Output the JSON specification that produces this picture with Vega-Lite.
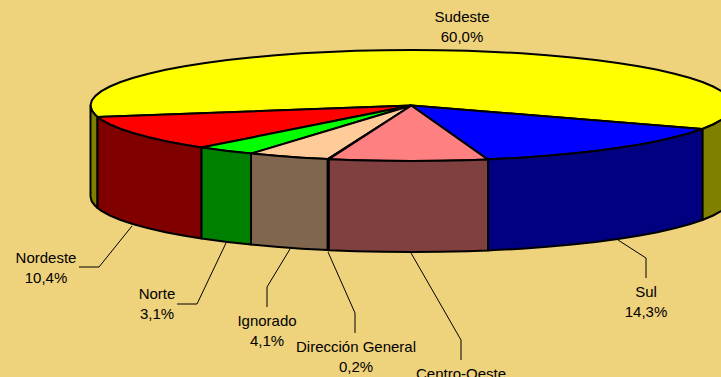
{"$schema":"https://vega.github.io/schema/vega-lite/v6.json","width":721,"height":377,"padding":0,"autosize":{"type":"none"},"background":"#EFD27C","view":{"stroke":null},
"datasets":{
"shapes":[
{"s":"Sudeste top","o":0,"x":411.5,"y":105.5},{"s":"Sudeste top","o":1,"x":702.4,"y":129},{"s":"Sudeste top","o":2,"x":713.1,"y":124.5},{"s":"Sudeste top","o":3,"x":721.6,"y":119.9},{"s":"Sudeste top","o":4,"x":727.6,"y":115.1},{"s":"Sudeste top","o":5,"x":731.3,"y":110.3},{"s":"Sudeste top","o":6,"x":732.5,"y":105.5},{"s":"Sudeste top","o":7,"x":731.3,"y":100.7},{"s":"Sudeste top","o":8,"x":727.6,"y":95.9},{"s":"Sudeste top","o":9,"x":721.6,"y":91.1},{"s":"Sudeste top","o":10,"x":713.1,"y":86.5},{"s":"Sudeste top","o":11,"x":702.4,"y":82},{"s":"Sudeste top","o":12,"x":689.5,"y":77.8},{"s":"Sudeste top","o":13,"x":674.5,"y":73.7},{"s":"Sudeste top","o":14,"x":657.4,"y":69.8},{"s":"Sudeste top","o":15,"x":638.5,"y":66.3},{"s":"Sudeste top","o":16,"x":617.8,"y":63},{"s":"Sudeste top","o":17,"x":595.6,"y":60},{"s":"Sudeste top","o":18,"x":572,"y":57.4},{"s":"Sudeste top","o":19,"x":547.2,"y":55.2},{"s":"Sudeste top","o":20,"x":521.3,"y":53.3},{"s":"Sudeste top","o":21,"x":494.6,"y":51.9},{"s":"Sudeste top","o":22,"x":467.2,"y":50.8},{"s":"Sudeste top","o":23,"x":439.5,"y":50.2},{"s":"Sudeste top","o":24,"x":411.5,"y":50},{"s":"Sudeste top","o":25,"x":383.5,"y":50.2},{"s":"Sudeste top","o":26,"x":355.8,"y":50.8},{"s":"Sudeste top","o":27,"x":328.4,"y":51.9},{"s":"Sudeste top","o":28,"x":301.7,"y":53.3},{"s":"Sudeste top","o":29,"x":275.8,"y":55.2},{"s":"Sudeste top","o":30,"x":251,"y":57.4},{"s":"Sudeste top","o":31,"x":227.4,"y":60},{"s":"Sudeste top","o":32,"x":205.2,"y":63},{"s":"Sudeste top","o":33,"x":184.5,"y":66.3},{"s":"Sudeste top","o":34,"x":165.6,"y":69.8},{"s":"Sudeste top","o":35,"x":148.5,"y":73.7},{"s":"Sudeste top","o":36,"x":133.5,"y":77.8},{"s":"Sudeste top","o":37,"x":120.6,"y":82},{"s":"Sudeste top","o":38,"x":109.9,"y":86.5},{"s":"Sudeste top","o":39,"x":101.4,"y":91.1},{"s":"Sudeste top","o":40,"x":95.4,"y":95.9},{"s":"Sudeste top","o":41,"x":91.7,"y":100.7},{"s":"Sudeste top","o":42,"x":90.5,"y":105.5},{"s":"Sudeste top","o":43,"x":91.7,"y":110.3},{"s":"Sudeste top","o":44,"x":95.4,"y":115.1},{"s":"Sudeste top","o":45,"x":97.5,"y":117},{"s":"Sudeste top","o":46,"x":411.5,"y":105.5},
{"s":"Nordeste top","o":0,"x":411.5,"y":105.5},{"s":"Nordeste top","o":1,"x":97.5,"y":117},{"s":"Nordeste top","o":2,"x":101.4,"y":119.9},{"s":"Nordeste top","o":3,"x":109.9,"y":124.5},{"s":"Nordeste top","o":4,"x":120.6,"y":129},{"s":"Nordeste top","o":5,"x":133.5,"y":133.3},{"s":"Nordeste top","o":6,"x":148.5,"y":137.3},{"s":"Nordeste top","o":7,"x":165.6,"y":141.2},{"s":"Nordeste top","o":8,"x":184.5,"y":144.7},{"s":"Nordeste top","o":9,"x":201.5,"y":147.6},{"s":"Nordeste top","o":10,"x":411.5,"y":105.5},
{"s":"Norte top","o":0,"x":411.5,"y":105.5},{"s":"Norte top","o":1,"x":201.5,"y":147.6},{"s":"Norte top","o":2,"x":227.4,"y":151},{"s":"Norte top","o":3,"x":251,"y":153.6},{"s":"Norte top","o":4,"x":411.5,"y":105.5},
{"s":"Ignorado top","o":0,"x":411.5,"y":105.5},{"s":"Ignorado top","o":1,"x":251,"y":153.6},{"s":"Ignorado top","o":2,"x":275.8,"y":155.8},{"s":"Ignorado top","o":3,"x":301.7,"y":157.7},{"s":"Ignorado top","o":4,"x":327.8,"y":159.1},{"s":"Ignorado top","o":5,"x":411.5,"y":105.5},
{"s":"Dirección General top","o":0,"x":411.5,"y":105.5},{"s":"Dirección General top","o":1,"x":327.8,"y":159.1},{"s":"Dirección General top","o":2,"x":328.8,"y":159.2},{"s":"Dirección General top","o":3,"x":411.5,"y":105.5},
{"s":"Centro-Oeste top","o":0,"x":411.5,"y":105.5},{"s":"Centro-Oeste top","o":1,"x":328.8,"y":159.2},{"s":"Centro-Oeste top","o":2,"x":355.8,"y":160.2},{"s":"Centro-Oeste top","o":3,"x":383.5,"y":160.8},{"s":"Centro-Oeste top","o":4,"x":411.5,"y":161},{"s":"Centro-Oeste top","o":5,"x":439.5,"y":160.8},{"s":"Centro-Oeste top","o":6,"x":467.2,"y":160.2},{"s":"Centro-Oeste top","o":7,"x":488,"y":159.4},{"s":"Centro-Oeste top","o":8,"x":411.5,"y":105.5},
{"s":"Sul top","o":0,"x":411.5,"y":105.5},{"s":"Sul top","o":1,"x":488,"y":159.4},{"s":"Sul top","o":2,"x":494.6,"y":159.1},{"s":"Sul top","o":3,"x":521.3,"y":157.7},{"s":"Sul top","o":4,"x":547.2,"y":155.8},{"s":"Sul top","o":5,"x":572,"y":153.6},{"s":"Sul top","o":6,"x":595.6,"y":151},{"s":"Sul top","o":7,"x":617.8,"y":148},{"s":"Sul top","o":8,"x":638.5,"y":144.7},{"s":"Sul top","o":9,"x":657.4,"y":141.2},{"s":"Sul top","o":10,"x":674.5,"y":137.3},{"s":"Sul top","o":11,"x":689.5,"y":133.3},{"s":"Sul top","o":12,"x":702.4,"y":129},{"s":"Sul top","o":13,"x":411.5,"y":105.5},
{"s":"Sudeste side L","o":0,"x":90.5,"y":105.5},{"s":"Sudeste side L","o":1,"x":91.7,"y":110.3},{"s":"Sudeste side L","o":2,"x":95.4,"y":115.1},{"s":"Sudeste side L","o":3,"x":97.5,"y":117},{"s":"Sudeste side L","o":4,"x":97.5,"y":208},{"s":"Sudeste side L","o":5,"x":95.4,"y":206.1},{"s":"Sudeste side L","o":6,"x":91.7,"y":201.3},{"s":"Sudeste side L","o":7,"x":90.5,"y":196.5},{"s":"Sudeste side L","o":8,"x":90.5,"y":105.5},
{"s":"Sudeste side R","o":0,"x":702.4,"y":129},{"s":"Sudeste side R","o":1,"x":713.1,"y":124.5},{"s":"Sudeste side R","o":2,"x":721.6,"y":119.9},{"s":"Sudeste side R","o":3,"x":727.6,"y":115.1},{"s":"Sudeste side R","o":4,"x":731.3,"y":110.3},{"s":"Sudeste side R","o":5,"x":732.5,"y":105.5},{"s":"Sudeste side R","o":6,"x":732.5,"y":196.5},{"s":"Sudeste side R","o":7,"x":731.3,"y":201.3},{"s":"Sudeste side R","o":8,"x":727.6,"y":206.1},{"s":"Sudeste side R","o":9,"x":721.6,"y":210.9},{"s":"Sudeste side R","o":10,"x":713.1,"y":215.5},{"s":"Sudeste side R","o":11,"x":702.4,"y":220},{"s":"Sudeste side R","o":12,"x":702.4,"y":129},
{"s":"Nordeste side","o":0,"x":97.5,"y":117},{"s":"Nordeste side","o":1,"x":101.4,"y":119.9},{"s":"Nordeste side","o":2,"x":109.9,"y":124.5},{"s":"Nordeste side","o":3,"x":120.6,"y":129},{"s":"Nordeste side","o":4,"x":133.5,"y":133.3},{"s":"Nordeste side","o":5,"x":148.5,"y":137.3},{"s":"Nordeste side","o":6,"x":165.6,"y":141.2},{"s":"Nordeste side","o":7,"x":184.5,"y":144.7},{"s":"Nordeste side","o":8,"x":201.5,"y":147.6},{"s":"Nordeste side","o":9,"x":201.5,"y":238.6},{"s":"Nordeste side","o":10,"x":184.5,"y":235.7},{"s":"Nordeste side","o":11,"x":165.6,"y":232.2},{"s":"Nordeste side","o":12,"x":148.5,"y":228.3},{"s":"Nordeste side","o":13,"x":133.5,"y":224.3},{"s":"Nordeste side","o":14,"x":120.6,"y":220},{"s":"Nordeste side","o":15,"x":109.9,"y":215.5},{"s":"Nordeste side","o":16,"x":101.4,"y":210.9},{"s":"Nordeste side","o":17,"x":97.5,"y":208},{"s":"Nordeste side","o":18,"x":97.5,"y":117},
{"s":"Norte side","o":0,"x":201.5,"y":147.6},{"s":"Norte side","o":1,"x":227.4,"y":151},{"s":"Norte side","o":2,"x":251,"y":153.6},{"s":"Norte side","o":3,"x":251,"y":244.6},{"s":"Norte side","o":4,"x":227.4,"y":242},{"s":"Norte side","o":5,"x":201.5,"y":238.6},{"s":"Norte side","o":6,"x":201.5,"y":147.6},
{"s":"Ignorado side","o":0,"x":251,"y":153.6},{"s":"Ignorado side","o":1,"x":275.8,"y":155.8},{"s":"Ignorado side","o":2,"x":301.7,"y":157.7},{"s":"Ignorado side","o":3,"x":327.8,"y":159.1},{"s":"Ignorado side","o":4,"x":327.8,"y":250.1},{"s":"Ignorado side","o":5,"x":301.7,"y":248.7},{"s":"Ignorado side","o":6,"x":275.8,"y":246.8},{"s":"Ignorado side","o":7,"x":251,"y":244.6},{"s":"Ignorado side","o":8,"x":251,"y":153.6},
{"s":"Dirección General side","o":0,"x":327.8,"y":159.1},{"s":"Dirección General side","o":1,"x":328.8,"y":159.2},{"s":"Dirección General side","o":2,"x":328.8,"y":250.2},{"s":"Dirección General side","o":3,"x":327.8,"y":250.1},{"s":"Dirección General side","o":4,"x":327.8,"y":159.1},
{"s":"Centro-Oeste side","o":0,"x":328.8,"y":159.2},{"s":"Centro-Oeste side","o":1,"x":355.8,"y":160.2},{"s":"Centro-Oeste side","o":2,"x":383.5,"y":160.8},{"s":"Centro-Oeste side","o":3,"x":411.5,"y":161},{"s":"Centro-Oeste side","o":4,"x":439.5,"y":160.8},{"s":"Centro-Oeste side","o":5,"x":467.2,"y":160.2},{"s":"Centro-Oeste side","o":6,"x":488,"y":159.4},{"s":"Centro-Oeste side","o":7,"x":488,"y":250.4},{"s":"Centro-Oeste side","o":8,"x":467.2,"y":251.2},{"s":"Centro-Oeste side","o":9,"x":439.5,"y":251.8},{"s":"Centro-Oeste side","o":10,"x":411.5,"y":252},{"s":"Centro-Oeste side","o":11,"x":383.5,"y":251.8},{"s":"Centro-Oeste side","o":12,"x":355.8,"y":251.2},{"s":"Centro-Oeste side","o":13,"x":328.8,"y":250.2},{"s":"Centro-Oeste side","o":14,"x":328.8,"y":159.2},
{"s":"Sul side","o":0,"x":488,"y":159.4},{"s":"Sul side","o":1,"x":494.6,"y":159.1},{"s":"Sul side","o":2,"x":521.3,"y":157.7},{"s":"Sul side","o":3,"x":547.2,"y":155.8},{"s":"Sul side","o":4,"x":572,"y":153.6},{"s":"Sul side","o":5,"x":595.6,"y":151},{"s":"Sul side","o":6,"x":617.8,"y":148},{"s":"Sul side","o":7,"x":638.5,"y":144.7},{"s":"Sul side","o":8,"x":657.4,"y":141.2},{"s":"Sul side","o":9,"x":674.5,"y":137.3},{"s":"Sul side","o":10,"x":689.5,"y":133.3},{"s":"Sul side","o":11,"x":702.4,"y":129},{"s":"Sul side","o":12,"x":702.4,"y":220},{"s":"Sul side","o":13,"x":689.5,"y":224.3},{"s":"Sul side","o":14,"x":674.5,"y":228.3},{"s":"Sul side","o":15,"x":657.4,"y":232.2},{"s":"Sul side","o":16,"x":638.5,"y":235.7},{"s":"Sul side","o":17,"x":617.8,"y":239},{"s":"Sul side","o":18,"x":595.6,"y":242},{"s":"Sul side","o":19,"x":572,"y":244.6},{"s":"Sul side","o":20,"x":547.2,"y":246.8},{"s":"Sul side","o":21,"x":521.3,"y":248.7},{"s":"Sul side","o":22,"x":494.6,"y":250.1},{"s":"Sul side","o":23,"x":488,"y":250.4},{"s":"Sul side","o":24,"x":488,"y":159.4}
],
"leaders":[
{"r":"Nordeste","o":0,"x":132,"y":226},{"r":"Nordeste","o":1,"x":99,"y":267},{"r":"Nordeste","o":2,"x":79,"y":267},
{"r":"Norte","o":0,"x":226,"y":243},{"r":"Norte","o":1,"x":197,"y":304},{"r":"Norte","o":2,"x":177,"y":304},
{"r":"Ignorado","o":0,"x":290,"y":249},{"r":"Ignorado","o":1,"x":267,"y":287},{"r":"Ignorado","o":2,"x":267,"y":307},
{"r":"Dirección General","o":0,"x":328,"y":252},{"r":"Dirección General","o":1,"x":355,"y":313},{"r":"Dirección General","o":2,"x":355,"y":333},
{"r":"Centro-Oeste","o":0,"x":411,"y":253},{"r":"Centro-Oeste","o":1,"x":461,"y":340},{"r":"Centro-Oeste","o":2,"x":461,"y":360},
{"r":"Sul","o":0,"x":618,"y":240},{"r":"Sul","o":1,"x":646,"y":258},{"r":"Sul","o":2,"x":646,"y":278}
],
"labels":[
{"r":"Sudeste","p":"60,0%","x":462,"y":17},{"r":"Sul","p":"14,3%","x":646,"y":292},{"r":"Nordeste","p":"10,4%","x":46,"y":258},{"r":"Norte","p":"3,1%","x":157,"y":294},{"r":"Ignorado","p":"4,1%","x":267,"y":321},{"r":"Dirección General","p":"0,2%","x":356,"y":347},{"r":"Centro-Oeste","x":461,"y":374}
]},
"layer":[
{"data":{"name":"shapes"},"mark":{"type":"line","filled":true,"stroke":"#000000","strokeWidth":2,"strokeJoin":"round","clip":true,"interpolate":"linear"},
"encoding":{"x":{"field":"x","type":"quantitative","scale":{"domain":[0,721],"nice":false,"zero":false},"axis":null},"y":{"field":"y","type":"quantitative","scale":{"domain":[377,0],"nice":false,"zero":false},"axis":null},"order":{"field":"o","type":"ordinal"},"detail":{"field":"s"},
"fill":{"field":"s","type":"nominal","legend":null,"scale":{"domain":["Sudeste top","Nordeste top","Norte top","Ignorado top","Dirección General top","Centro-Oeste top","Sul top","Sudeste side L","Sudeste side R","Nordeste side","Norte side","Ignorado side","Dirección General side","Centro-Oeste side","Sul side"],"range":["#FFFF00","#FF0000","#00FF00","#FFCC99","#FF8080","#FF8080","#0000FF","#808000","#808000","#800000","#008000","#80664C","#804040","#804040","#000080"]}}}},
{"data":{"name":"leaders"},"mark":{"type":"line","stroke":"#000000","strokeWidth":1},
"encoding":{"x":{"field":"x","type":"quantitative"},"y":{"field":"y","type":"quantitative"},"order":{"field":"o","type":"ordinal"},"detail":{"field":"r"}}},
{"data":{"name":"labels"},"mark":{"type":"text","font":"Liberation Sans","fontSize":15,"align":"center","baseline":"middle","fill":"#000000"},
"encoding":{"x":{"field":"x","type":"quantitative"},"y":{"field":"y","type":"quantitative"},"text":{"field":"r"}}},
{"data":{"name":"labels"},"transform":[{"filter":"datum.p"}],"mark":{"type":"text","font":"Liberation Sans","fontSize":15,"align":"center","baseline":"middle","fill":"#000000","dy":20},
"encoding":{"x":{"field":"x","type":"quantitative"},"y":{"field":"y","type":"quantitative"},"text":{"field":"p"}}}
]}
